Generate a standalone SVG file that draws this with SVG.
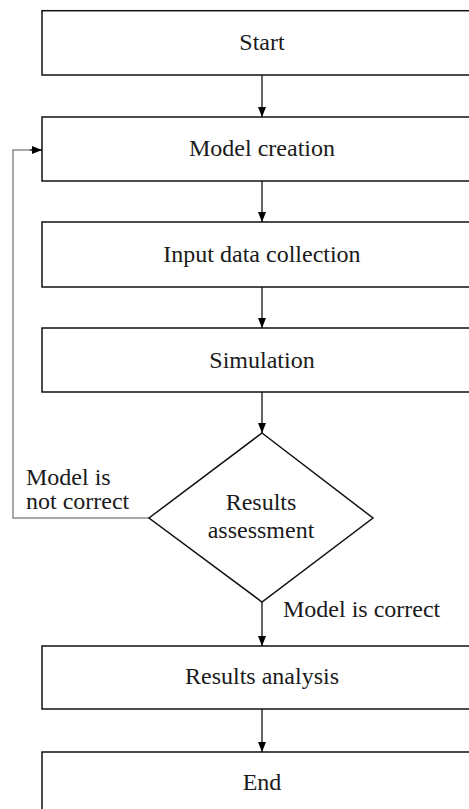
<svg xmlns="http://www.w3.org/2000/svg" width="469" height="809" viewBox="0 0 469 809">
<style>
.box{fill:#fff;stroke:#111;stroke-width:1.5}
.t{font-family:'Liberation Serif','DejaVu Serif',serif;font-size:24px;fill:#1a1a1a}
.c{text-anchor:middle}
.ln{fill:none;stroke:#111;stroke-width:1.3}
.fb{fill:none;stroke:#8a8a8a;stroke-width:1.5}
</style>
<defs>
<marker id="ah" markerWidth="10" markerHeight="10" viewBox="0 0 10 10" refX="10" refY="5" orient="auto" markerUnits="userSpaceOnUse">
<path d="M0,1 L10,5 L0,9 Z" fill="#000"/>
</marker>
</defs>
<rect width="469" height="809" fill="#fff"/>
<g id="connectors" font-family="Liberation Serif, serif">
<line class="ln" x1="262" y1="75" x2="262" y2="117" marker-end="url(#ah)"/>
<line class="ln" x1="262" y1="181" x2="262" y2="222" marker-end="url(#ah)"/>
<line class="ln" x1="262" y1="287" x2="262" y2="328" marker-end="url(#ah)"/>
<line class="ln" x1="262" y1="392" x2="262" y2="433" marker-end="url(#ah)"/>
<line class="ln" x1="262" y1="602" x2="262" y2="646" marker-end="url(#ah)"/>
<line class="ln" x1="262" y1="709" x2="262" y2="752" marker-end="url(#ah)"/>
<polyline class="fb" points="149,518 13,518 13,150 34,150"/>
<line class="ln" x1="30" y1="150" x2="42" y2="150" marker-end="url(#ah)"/>
<text class="t" x="26" y="485">Model is</text>
<text class="t" x="26" y="509">not correct</text>
<text class="t" x="283" y="617">Model is correct</text>
</g>
<g id="start">
<rect class="box" x="42" y="10.7" width="440" height="64.3"/>
<text class="t c" x="262" y="49.5">Start</text>
</g>
<g id="model-creation">
<rect class="box" x="42" y="117" width="440" height="64"/>
<text class="t c" x="262" y="155.5">Model creation</text>
</g>
<g id="input-data">
<rect class="box" x="42" y="222" width="440" height="65"/>
<text class="t c" x="262" y="261.5">Input data collection</text>
</g>
<g id="simulation">
<rect class="box" x="42" y="328" width="440" height="64"/>
<text class="t c" x="262" y="367.5">Simulation</text>
</g>
<g id="assessment">
<polygon class="box" points="262,433 373,518 262,602 149,518"/>
<text class="t c" x="261" y="510">Results</text>
<text class="t c" x="261" y="538">assessment</text>
</g>
<g id="analysis">
<rect class="box" x="42" y="646" width="440" height="63"/>
<text class="t c" x="262" y="683.5">Results analysis</text>
</g>
<g id="end">
<rect class="box" x="42" y="752" width="440" height="64"/>
<text class="t c" x="262" y="790">End</text>
</g>
</svg>
